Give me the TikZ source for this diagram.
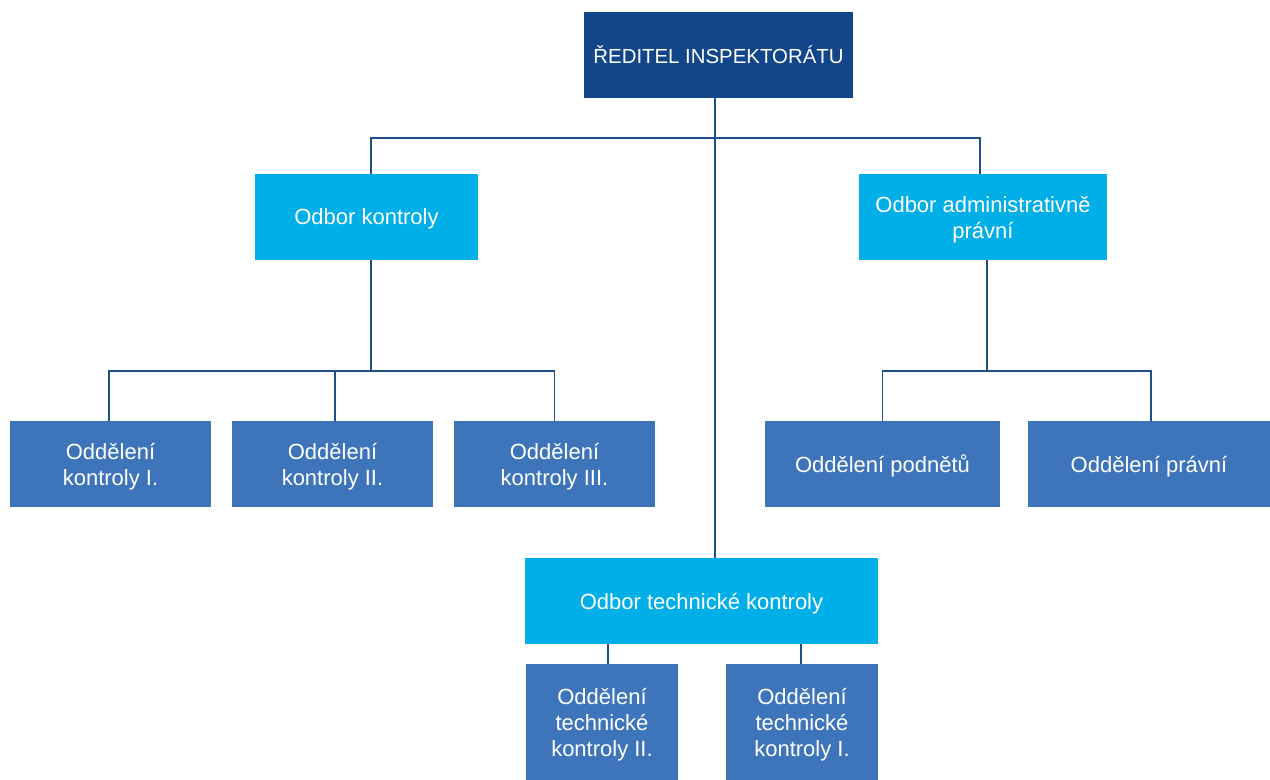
\documentclass[tikz,border=0pt]{standalone}
\usepackage{fontspec}
\setmainfont{Liberation Sans}
\definecolor{darkblue}{HTML}{124589}
\definecolor{cyanbox}{HTML}{00AEE8}
\definecolor{midblue}{HTML}{3E75BA}
\definecolor{linecol}{HTML}{1F4E8C}
\begin{document}
\begin{tikzpicture}[x=0.5pt, y=-0.5pt]
        \tikzstyle{every node}=[rectangle, inner sep=2pt, text=white, align=center, text depth=0pt, font=\fontsize{11}{13}\selectfont]
        \tikzstyle{head}=[fill=darkblue, minimum width=134.5pt, minimum height=43pt, font=\fontsize{10.2}{12}\selectfont]
        \tikzstyle{odbor}=[fill=cyanbox, minimum height=43pt]
        \tikzstyle{oddel}=[fill=midblue, minimum height=43pt]
        \tikzstyle{conn}=[draw=linecol, line width=0.6pt]
        \useasboundingbox (0,0) rectangle (1270,780);
        \node [head] (root) at (718.5,55) {ŘEDITEL INSPEKTORÁTU};
        \node [odbor, minimum width=111.5pt] (kon) at (366.5,217) {Odbor kontroly};
        \node [odbor, minimum width=124pt] (adm) at (983,217) {Odbor administrativně\\právní};
        \node [oddel, minimum width=100.5pt] (k1) at (110.5,464) {Oddělení\\kontroly I.};
        \node [oddel, minimum width=100.5pt] (k2) at (332.5,464) {Oddělení\\kontroly II.};
        \node [oddel, minimum width=100.5pt] (k3) at (554.5,464) {Oddělení\\kontroly III.};
        \node [oddel, minimum width=117.5pt] (pod) at (882.5,464) {Oddělení podnětů};
        \node [oddel, minimum width=121pt] (pra) at (1149,464) {Oddělení právní};
        \node [odbor, minimum width=176.5pt] (tech) at (701.5,601) {Odbor technické kontroly};
        \node [oddel, minimum width=76pt, minimum height=58pt] (t2) at (602,722) {Oddělení\\technické\\kontroly II.};
        \node [oddel, minimum width=76pt, minimum height=58pt] (t1) at (802,722) {Oddělení\\technické\\kontroly I.};
        \coordinate (bus) at (715,138);
        \coordinate (kbus) at (371,371);
        \coordinate (abus) at (987,371);
        \draw [conn] (root.south -| bus) -- (tech.north -| bus);
        \draw [conn] ([xshift=2.25pt]kon.north) |- (bus) -| ([xshift=-1.5pt]adm.north);
        \draw [conn] (kon.south -| kbus) -- (kbus);
        \draw [conn] ([xshift=-0.75pt]k1.north) |- (kbus) -| (k3.north);
        \draw [conn] ([xshift=1.25pt]k2.north) -- ([xshift=1.25pt]k2.north |- kbus);
        \draw [conn] (adm.south -| abus) -- (abus);
        \draw [conn] (pod.north) |- (abus) -| ([xshift=1pt]pra.north);
        \draw [conn] ([xshift=3pt]t2.north) -- ([xshift=3pt]t2.north |- tech.south);
        \draw [conn] ([xshift=-0.5pt]t1.north) -- ([xshift=-0.5pt]t1.north |- tech.south);
    \end{tikzpicture}
\end{document}
